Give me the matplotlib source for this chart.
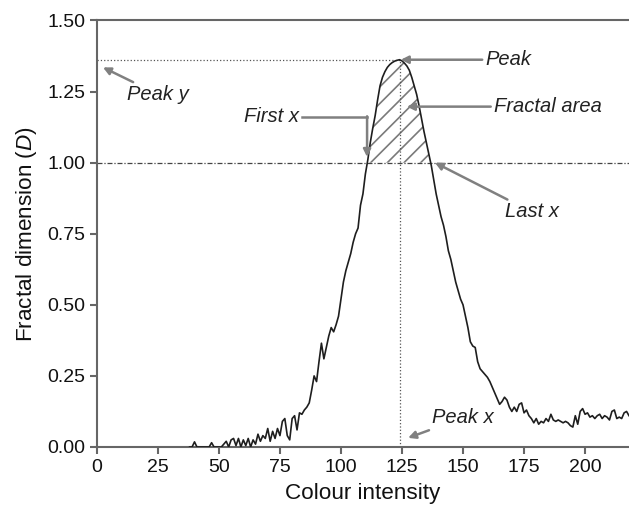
import numpy as np
import matplotlib.pyplot as plt

plt.rcParams['font.family'] = ['Liberation Sans', 'DejaVu Sans']
plt.rcParams['mathtext.fontset'] = 'custom'
plt.rcParams['mathtext.it'] = 'Liberation Sans:italic'
plt.rcParams['mathtext.rm'] = 'Liberation Sans'
plt.rcParams['hatch.color'] = '#7a7a7a'
plt.rcParams['hatch.linewidth'] = 1.2

# colour intensity 38..218, fractal dimension per intensity
intensity = np.arange(38, 219)
fd = [
    0, 0, 0.018, 0, 0, 0, 0, 0, 0, 0.015, 0, 0,
    0, 0, 0.01, 0.02, 0, 0.025, 0.03, 0.005, 0.03, 0,
    0.025, 0.005, 0.03, 0, 0.025, 0.01, 0.045, 0.02, 0.04, 0.03,
    0.065, 0.02, 0.055, 0.03, 0.065, 0.04, 0.09, 0.1, 0.04, 0.025,
    0.1, 0.11, 0.06, 0.12, 0.115, 0.13, 0.14, 0.155, 0.2, 0.25,
    0.23, 0.3, 0.365, 0.31, 0.35, 0.39, 0.42, 0.405, 0.43, 0.46,
    0.52, 0.58, 0.62, 0.65, 0.68, 0.72, 0.75, 0.77, 0.85, 0.89,
    0.96, 1.01, 1.07, 1.12, 1.165, 1.22, 1.27, 1.30, 1.32, 1.335,
    1.345, 1.352, 1.357, 1.36, 1.362, 1.358, 1.35, 1.34, 1.325, 1.30,
    1.27, 1.24, 1.20, 1.155, 1.11, 1.07, 1.03, 0.99, 0.94, 0.89,
    0.85, 0.81, 0.78, 0.74, 0.69, 0.66, 0.62, 0.58, 0.55, 0.52,
    0.50, 0.46, 0.42, 0.37, 0.355, 0.35, 0.30, 0.275, 0.265, 0.255,
    0.245, 0.23, 0.21, 0.19, 0.17, 0.15, 0.16, 0.175, 0.165, 0.14,
    0.125, 0.14, 0.125, 0.15, 0.155, 0.12, 0.13, 0.11, 0.10, 0.085,
    0.10, 0.08, 0.09, 0.085, 0.10, 0.09, 0.115, 0.095, 0.09, 0.095,
    0.09, 0.085, 0.09, 0.085, 0.075, 0.07, 0.11, 0.08, 0.125, 0.135,
    0.115, 0.12, 0.105, 0.11, 0.10, 0.11, 0.115, 0.10, 0.11, 0.105,
    0.095, 0.125, 0.13, 0.10, 0.105, 0.10, 0.12, 0.125, 0.11,
]
fd = np.array(fd)
threshold = 1.0
peak_i = int(np.argmax(fd))
peak_x = intensity[peak_i]
peak_y = fd[peak_i]

fig = plt.figure(figsize=(6.29, 5.12), dpi=100)
ax = fig.add_axes([0.154, 0.127, 0.846, 0.833])

ax.fill_between(intensity, threshold, fd, where=fd >= threshold, interpolate=True,
                facecolor='none', edgecolor='#7a7a7a', hatch='//', linewidth=0)
ax.plot(intensity, fd, color='#1e1e1e', lw=1.2, zorder=3)

ax.axhline(threshold, color='#444444', lw=0.9, ls=(0, (4, 1.5, 1, 1.5)))
ax.plot([0, peak_x], [peak_y, peak_y], color='#555555', lw=0.9, ls=':')
ax.plot([peak_x, peak_x], [0, peak_y], color='#555555', lw=0.9, ls=':')

arrow = dict(arrowstyle='-|>', color='#808080', lw=1.8, mutation_scale=11,
             shrinkA=0, shrinkB=0)
tfont = dict(fontsize=14.5, style='italic', color='#222222')

ax.annotate('Peak', xy=(peak_x + 0.5, peak_y), xytext=(159, peak_y),
            va='center', ha='left', arrowprops=arrow, **tfont)
ax.annotate('Fractal area', xy=(127, 1.197), xytext=(162.5, 1.197),
            va='center', ha='left', arrowprops=arrow, **tfont)
ax.annotate('Peak y', xy=(2.5, 1.335), xytext=(12.5, 1.24),
            va='center', ha='left', arrowprops=arrow, **tfont)
ax.annotate('Last x', xy=(138.5, 1.0), xytext=(167, 0.827),
            va='center', ha='left', arrowprops=arrow, **tfont)
ax.annotate('Peak x', xy=(127.5, 0.032), xytext=(137.2, 0.102),
            va='center', ha='left', arrowprops=arrow, **tfont)
ax.text(83, 1.162, 'First x', va='center', ha='right', **tfont)
ax.plot([84, 110.7], [1.162, 1.162], color='#808080', lw=1.8)
ax.annotate('', xy=(110.7, 1.02), xytext=(110.7, 1.163), arrowprops=arrow)

ax.set_xlim(0, 218)
ax.set_ylim(0, 1.5)
ax.set_xticks(np.arange(0, 201, 25))
ax.set_yticks(np.arange(0, 1.51, 0.25))
ax.yaxis.set_major_formatter(plt.FormatStrFormatter('%.2f'))
ax.tick_params(labelsize=14, length=5, width=1.5, color='#666666', labelcolor='#111111')
for side in ['left', 'bottom', 'top']:
    ax.spines[side].set_color('#666666')
    ax.spines[side].set_linewidth(1.5)
ax.spines['right'].set_visible(False)

ax.set_xlabel('Colour intensity', fontsize=16.2, color='#111111', labelpad=5)
ax.set_ylabel('Fractal dimension ($\\it{D}$)', fontsize=16.2, color='#111111', labelpad=6)

fig.savefig('out.png', dpi=100)
